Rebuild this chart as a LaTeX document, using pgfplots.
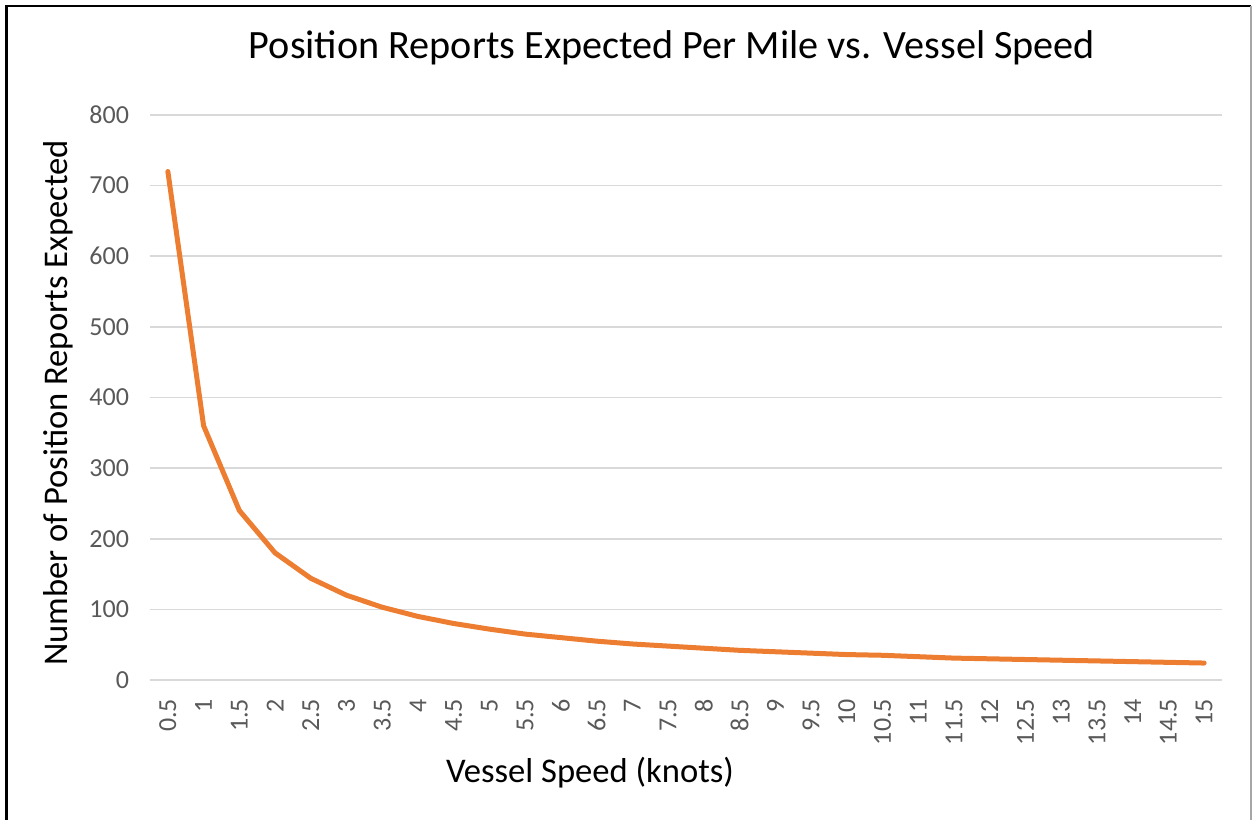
\documentclass[border=0pt]{standalone}
\usepackage{pgfplots}
\pgfplotsset{compat=1.18}
\usepackage{fontspec}
\setmainfont{Carlito}
\definecolor{lineor}{HTML}{ED7D31}
\definecolor{gridc}{HTML}{D9D9D9}
\definecolor{tickc}{HTML}{595959}
\begin{document}
\begin{tikzpicture}[x=1pt,y=1pt]
\path[use as bounding box] (0,0) rectangle (627.5,410);
\draw[black,line width=1.1pt] (3.2,0) -- (3.2,407) -- (625.5,407);
\draw[gray!70,line width=0.8pt] (625.5,407) -- (625.5,0);
\begin{axis}[
  at={(75pt,70pt)}, anchor=origin,
  scale only axis, width=536pt, height=282.5pt,
  xmin=0.25, xmax=15.25, ymin=0, ymax=800,
  axis line style={draw=none},
  xtick={0.5,1,...,15},
  xticklabels={0.5,1,1.5,2,2.5,3,3.5,4,4.5,5,5.5,6,6.5,7,7.5,8,8.5,9,9.5,10,10.5,11,11.5,12,12.5,13,13.5,14,14.5,15},
  ytick={0,100,...,800},
  yticklabels={0,100,200,300,400,500,600,700,800},
  ymajorgrids, major grid style={gridc,line width=0.8pt},
  major tick length=0pt,
  tick label style={font=\fontsize{13}{15}\selectfont, text=tickc},
  x tick label style={yshift=-6pt, rotate=90, anchor=east},
  yticklabel style={xshift=-7pt},
  clip=false,
]
\addplot[lineor, line width=2.5pt, line join=round, line cap=round] coordinates {
(0.5,720) (1,360) (1.5,240) (2,180) (2.5,144) (3,120) (3.5,103) (4,90) (4.5,80) (5,72)
(5.5,65) (6,60) (6.5,55) (7,51) (7.5,48) (8,45) (8.5,42) (9,40) (9.5,38) (10,36)
(10.5,35) (11,33) (11.5,31) (12,30) (12.5,29) (13,28) (13.5,27) (14,26) (14.5,25) (15,24)
};
\end{axis}
\node[font=\fontsize{20.1}{23}\selectfont] at (336,386) {Position Reports Expected Per Mile vs. Vessel Speed};
\node[font=\fontsize{17.3}{20}\selectfont, rotate=90] at (29,208.5) {Number of Position Reports Expected};
\node[font=\fontsize{17.3}{20}\selectfont] at (295,23.5) {Vessel Speed (knots)};
\end{tikzpicture}
\end{document}
